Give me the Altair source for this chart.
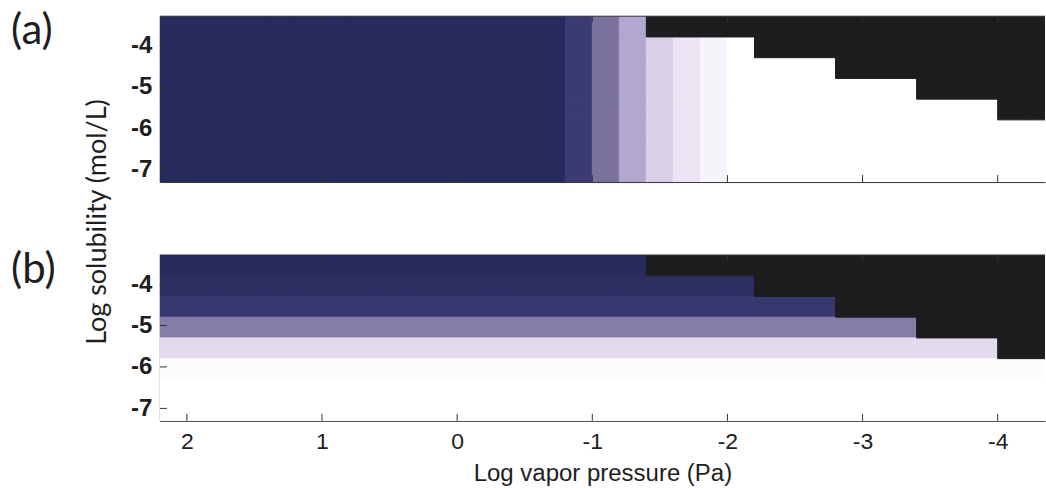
import altair as alt
import pandas as pd

# Grid of the simulation: cell centres along each axis
vapor_pressure = [2.1, 1.9, 1.7, 1.5, 1.3, 1.1, 0.9, 0.7, 0.5, 0.3, 0.1,
                  -0.1, -0.3, -0.5, -0.7, -0.9, -1.1, -1.3, -1.5, -1.7, -1.9,
                  -2.1, -2.3, -2.5, -2.7, -2.9, -3.1, -3.3, -3.5, -3.7, -3.9,
                  -4.1, -4.3]
solubility = [-3.55, -4.05, -4.55, -5.05, -5.55, -6.05, -6.55, -7.05]

# (a) fraction retained, varies with vapor pressure only
fraction_a = [1.0] * 15 + [0.9, 0.6, 0.35, 0.18, 0.08, 0.03] + [0.0] * 12
# (b) fraction retained, varies with solubility only
fraction_b = [1.0, 0.97, 0.92, 0.55, 0.13, 0.01, 0.0, 0.0]
# per solubility row: vapor pressures below this value are not reachable
blocked_below = [-1.4, -2.2, -2.8, -3.4, -4.0, None, None, None]

x_ticks = [2, 1, 0, -1, -2, -3, -4]
y_ticks = [-4, -5, -6, -7]

half_dx, half_dy = 0.1, 0.25

records = []
for panel in ("a", "b"):
    for j, s in enumerate(solubility):
        for i, v in enumerate(vapor_pressure):
            frac = fraction_a[i] if panel == "a" else fraction_b[j]
            lim = blocked_below[j]
            records.append({
                "panel": panel,
                "vp_lo": v + half_dx, "vp_hi": v - half_dx,
                "ls_lo": s - half_dy, "ls_hi": s + half_dy,
                "frac": frac,
                "blocked": bool(lim is not None and v < lim),
            })
cells = pd.DataFrame(records)

W, H = 886, 166
FRAME = "#333333"
TXT = "#1e1e1e"
SANS = "Arial, Liberation Sans, sans-serif"

x_scale = alt.Scale(domain=[2.2, -4.35], nice=False, zero=False)
y_scale = alt.Scale(domain=[-7.3, -3.3], nice=False, zero=False)
color_scale = alt.Scale(
    domain=[0, 0.03, 0.08, 0.18, 0.35, 0.6, 0.9, 1.0],
    range=["#ffffff", "#f6f3fa", "#ebe5f3", "#d8d0e8", "#b1a7cf",
           "#7a719f", "#3b3b72", "#272a5c"],
    interpolate="rgb",
)


def panel(tag, bottom):
    d = cells[cells["panel"] == tag]
    x_axis = alt.Axis(
        values=x_ticks, labels=bottom, ticks=False, grid=False,
        labelExpr="datum.value + ''",
        domain=True, domainColor=FRAME, domainWidth=1,
        title="Log vapor pressure (Pa)" if bottom else None,
        labelFont=SANS, labelFontSize=23, labelColor=TXT,
        labelPadding=10, titleFont=SANS, titleFontSize=24,
        titleFontWeight="normal", titleColor=TXT, titlePadding=8,
    )
    y_axis = alt.Axis(
        values=y_ticks, ticks=False, grid=False, title=None,
        labelExpr="datum.value + ''",
        domain=True, domainColor=FRAME, domainWidth=1,
        labelFont=SANS, labelFontSize=24, labelColor=TXT,
        labelFontWeight="bold", labelPadding=8,
    )
    base = alt.Chart(d)
    open_cells = base.transform_filter("!datum.blocked").mark_rect(
        clip=True, opacity=1, strokeWidth=1
    ).encode(
        x=alt.X("vp_lo:Q", scale=x_scale, axis=x_axis),
        x2="vp_hi:Q",
        y=alt.Y("ls_lo:Q", scale=y_scale, axis=y_axis),
        y2="ls_hi:Q",
        color=alt.Color("frac:Q", scale=color_scale, legend=None),
        stroke=alt.Stroke("frac:Q", scale=color_scale, legend=None),
    )
    shut_cells = base.transform_filter("datum.blocked").mark_rect(
        clip=True, opacity=1, color="#1d1d1f", stroke="#1d1d1f", strokeWidth=1
    ).encode(
        x=alt.X("vp_lo:Q", scale=x_scale), x2="vp_hi:Q",
        y=alt.Y("ls_lo:Q", scale=y_scale), y2="ls_hi:Q",
    )
    xt = alt.Chart(pd.DataFrame({"t": x_ticks}))
    yt = alt.Chart(pd.DataFrame({"t": y_ticks}))
    tick_b = xt.mark_rule(color=FRAME, strokeWidth=1).encode(
        x=alt.X("t:Q", scale=x_scale), y=alt.value(H), y2=alt.value(H - 7))
    tick_t = xt.mark_rule(color=FRAME, strokeWidth=1).encode(
        x=alt.X("t:Q", scale=x_scale), y=alt.value(0), y2=alt.value(6))
    tick_l = yt.mark_rule(color=FRAME, strokeWidth=1).encode(
        y=alt.Y("t:Q", scale=y_scale), x=alt.value(0), x2=alt.value(7))
    top_edge = alt.Chart(pd.DataFrame({"z": [0]})).mark_rule(
        color=FRAME, strokeWidth=1
    ).encode(x=alt.value(0), x2=alt.value(W), y=alt.value(0))
    tag_text = alt.Chart(pd.DataFrame({"s": [f"({tag})"]})).mark_text(
        align="left", baseline="middle", font="Lato", fontSize=42, color=TXT
    ).encode(x=alt.value(-149), y=alt.value(15), text="s:N")
    layers = [open_cells, shut_cells, tick_b, tick_t, tick_l, top_edge, tag_text]
    if tag == "a":
        ytitle = alt.Chart(pd.DataFrame({"s": ["Log solubility (mol/L)"]})).mark_text(
            angle=270, align="center", baseline="middle", font="Lato",
            fontSize=27, color=TXT
        ).encode(x=alt.value(-62), y=alt.value(206), text="s:N")
        layers.append(ytitle)
    return alt.layer(*layers).properties(width=W, height=H)


chart = alt.vconcat(
    panel("a", False), panel("b", True), spacing=73, bounds="flush"
).configure_view(stroke=None).properties(
    padding={"left": 11, "top": 10, "right": 0, "bottom": 0},
    background="white",
)

chart.save("out.html", embed_options={"renderer": "svg", "actions": False})
